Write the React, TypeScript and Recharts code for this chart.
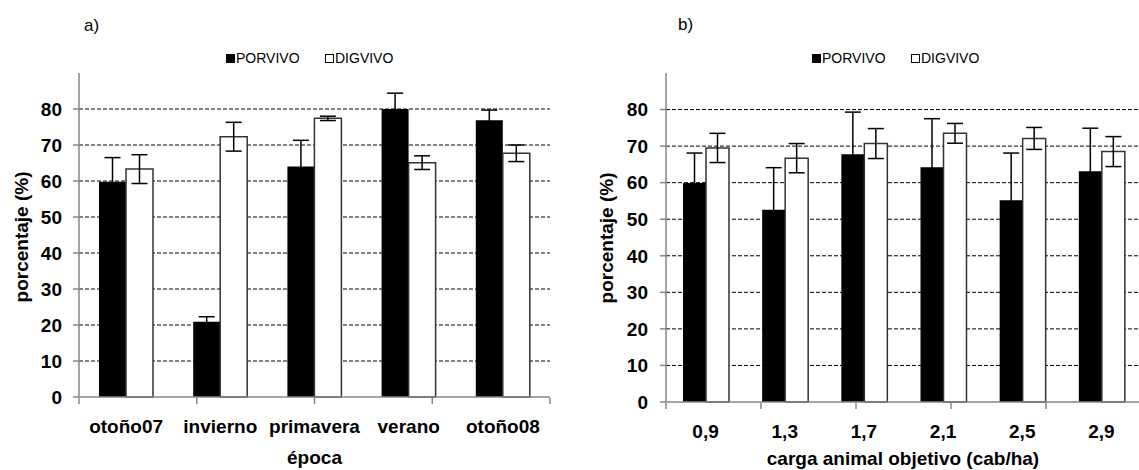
import { Bar, BarChart, CartesianGrid, ErrorBar, XAxis, YAxis } from "recharts";

const FONT = "'Liberation Sans', Arial, sans-serif";

// a) por época
const epocas = ["otoño07", "invierno", "primavera", "verano", "otoño08"];
const porvivoA = [59.8, 20.9, 64.0, 80.0, 76.9];
const porvivoErrA = [6.7, 1.4, 7.3, 4.4, 2.8];
const digvivoA = [63.3, 72.3, 77.4, 65.1, 67.7];
const digvivoErrA = [4.0, 4.0, 0.6, 1.9, 2.3];

// b) por carga animal objetivo
const cargas = ["0,9", "1,3", "1,7", "2,1", "2,5", "2,9"];
const porvivoB = [59.9, 52.6, 67.8, 64.2, 55.2, 63.1];
const porvivoErrB = [8.2, 11.5, 11.5, 13.3, 12.9, 11.8];
const digvivoB = [69.5, 66.7, 70.7, 73.5, 72.1, 68.5];
const digvivoErrB = [4.0, 4.0, 4.1, 2.7, 3.0, 4.1];

const yTicks = [0, 10, 20, 30, 40, 50, 60, 70, 80];
const gridValues = [10, 20, 30, 40, 50, 60, 70, 80];

const AXIS = "#868686";

function rows(cats: string[], por: number[], porErr: number[], dig: number[], digErr: number[]) {
  return cats.map((c, i) => ({ cat: c, por: por[i], porErr: porErr[i], dig: dig[i], digErr: digErr[i] }));
}

interface PanelProps {
  data: ReturnType<typeof rows>;
  width: number;
  margin: { top: number; right: number; bottom: number; left: number };
  barSize: number;
  tickMargin: number;
}

function Panel({ data, width, margin, barSize, tickMargin }: PanelProps) {
  const edges = data.map((_, i) => i).concat(data.length);
  const tickFont = { fontSize: 19, fontWeight: "bold", fill: "#000", fontFamily: FONT };
  return (
    <BarChart width={width} height={470} data={data} margin={margin} barSize={barSize} barGap={0} style={{ fontFamily: FONT }}>
      <CartesianGrid vertical={false} horizontalValues={gridValues} stroke="#000" strokeDasharray="4 2" />
      <XAxis
        dataKey="cat"
        height={1}
        interval={0}
        tickLine={false}
        tickSize={6}
        tickMargin={17}
        axisLine={{ stroke: AXIS, strokeWidth: 1.5 }}
        tick={tickFont}
      />
      <XAxis
        xAxisId="edge"
        type="number"
        domain={[0, data.length]}
        ticks={edges}
        interval={0}
        height={1}
        tickFormatter={() => ""}
        axisLine={false}
        tickSize={6}
        tickLine={{ stroke: AXIS, strokeWidth: 1.5 }}
        allowDataOverflow
      />
      <YAxis
        width={1}
        domain={[0, 90]}
        ticks={yTicks}
        interval={0}
        tickSize={6}
        tickMargin={tickMargin}
        axisLine={{ stroke: AXIS, strokeWidth: 1.5 }}
        tickLine={{ stroke: AXIS, strokeWidth: 1.5 }}
        tick={tickFont}
      />
      <Bar dataKey="por" fill="#000" isAnimationActive={false}>
        <ErrorBar dataKey="porErr" width={8} stroke="#000" strokeWidth={1.5} isAnimationActive={false} />
      </Bar>
      <Bar dataKey="dig" fill="#fff" stroke="#333" strokeWidth={1.5} isAnimationActive={false}>
        <ErrorBar dataKey="digErr" width={8} stroke="#000" strokeWidth={1.5} isAnimationActive={false} />
      </Bar>
    </BarChart>
  );
}

function LegendRow({ x }: { x: number }) {
  return (
    <g fontSize={14} fontFamily={FONT}>
      <rect x={x} y={54} width={9} height={9} fill="#000" />
      <text x={x + 10} y={63}>PORVIVO</text>
      <rect x={x + 99.5} y={54.5} width={8} height={8} fill="#fff" stroke="#000" strokeWidth={1} />
      <text x={x + 109} y={63}>DIGVIVO</text>
    </g>
  );
}

export default function App() {
  const dataA = rows(epocas, porvivoA, porvivoErrA, digvivoA, digvivoErrA);
  const dataB = rows(cargas, porvivoB, porvivoErrB, digvivoB, digvivoErrB);
  return (
    <div style={{ position: "absolute", left: 0, top: 0, width: 1139, height: 470, overflow: "hidden", background: "#fff" }}>
      <div style={{ position: "absolute", left: 0, top: 0 }}>
        <Panel data={dataA} width={570} margin={{ top: 73, right: 20, bottom: 71, left: 78 }} barSize={27} tickMargin={11} />
      </div>
      <div style={{ position: "absolute", left: 570, top: 0 }}>
        <Panel data={dataB} width={575} margin={{ top: 73, right: 4, bottom: 66, left: 95 }} barSize={23} tickMargin={12} />
      </div>
      <svg width={1139} height={470} style={{ position: "absolute", left: 0, top: 0, pointerEvents: "none" }}>
        <text x={84} y={31} fontSize={17} fontFamily={FONT}>a)</text>
        <text x={678} y={30} fontSize={17} fontFamily={FONT}>b)</text>
        <LegendRow x={226} />
        <LegendRow x={812} />
        <text x={314.5} y={464} textAnchor="middle" fontSize={19} fontWeight="bold" fontFamily={FONT}>época</text>
        <text x={903} y={465} textAnchor="middle" fontSize={19} fontWeight="bold" fontFamily={FONT}>
          carga animal objetivo (cab/ha)
        </text>
        <text transform="translate(28,237) rotate(-90)" textAnchor="middle" fontSize={19} fontWeight="bold" fontFamily={FONT}>
          porcentaje (%)
        </text>
        <text transform="translate(613,238) rotate(-90)" textAnchor="middle" fontSize={19} fontWeight="bold" fontFamily={FONT}>
          porcentaje (%)
        </text>
      </svg>
    </div>
  );
}
